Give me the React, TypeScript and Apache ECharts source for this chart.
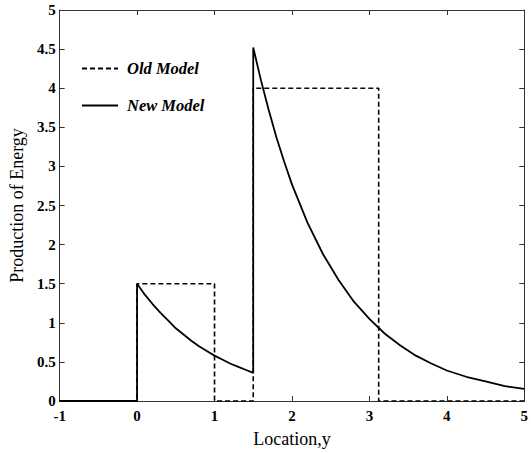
import React, { useEffect, useRef } from "react";
import * as echarts from "echarts";

const oldModelX = [-1, 0, 0, 1, 1, 1.5, 1.5, 3.12, 3.12, 5];
const oldModelY = [0, 0, 1.5, 1.5, 0, 0, 4, 4, 0, 0];

const newModelX = [
  -1, 0, 0, 0.1, 0.2, 0.3, 0.4, 0.5, 0.6, 0.7, 0.8, 0.9, 1.0, 1.1, 1.2, 1.3, 1.4, 1.5,
  1.5, 1.6, 1.7, 1.8, 1.9, 2.0, 2.2, 2.4, 2.6, 2.8, 3.0, 3.2, 3.4, 3.6, 3.8, 4.0, 4.25, 4.5, 4.75, 5.0,
];
const newModelY = [
  0, 0, 1.5, 1.36, 1.24, 1.13, 1.03, 0.93, 0.85, 0.77, 0.7, 0.64, 0.58, 0.53, 0.48, 0.44, 0.4, 0.36,
  4.52, 4.1, 3.72, 3.37, 3.06, 2.77, 2.28, 1.88, 1.55, 1.27, 1.05, 0.86, 0.71, 0.58, 0.48, 0.39, 0.31, 0.25, 0.19, 0.155,
];

const xTicks = [-1, 0, 1, 2, 3, 4, 5];
const yTicks = [0, 0.5, 1, 1.5, 2, 2.5, 3, 3.5, 4, 4.5, 5];

const FONT = "Liberation Serif";

export default function App() {
  const ref = useRef<HTMLDivElement>(null);
  useEffect(() => {
    const chart = echarts.init(ref.current!, undefined, { renderer: "svg" });
    const frameLine = { show: true, onZero: false, lineStyle: { color: "#333", width: 1 } };
    const tickIn = { show: true, inside: true, length: 5, lineStyle: { color: "#333" } };
    chart.setOption({
      animation: false,
      backgroundColor: "#fff",
      grid: { left: 58, right: 3, top: 10, bottom: 48, containLabel: false },
      legend: {
        left: 76,
        top: 55,
        orient: "vertical",
        itemGap: 20,
        itemWidth: 36,
        itemHeight: 12,
        itemStyle: { opacity: 0 },
        textStyle: { fontFamily: FONT, fontStyle: "italic", fontWeight: "bold", fontSize: 16.5, color: "#000", padding: [0, 0, 0, 4] },
        data: ["Old Model", "New Model"],
      },
      xAxis: [
        {
          type: "value",
          min: xTicks[0],
          max: xTicks[xTicks.length - 1],
          interval: 1,
          position: "bottom",
          name: "Location,y",
          nameLocation: "middle",
          nameGap: 29,
          nameTextStyle: { fontFamily: FONT, fontSize: 18, color: "#000" },
          axisLine: frameLine,
          axisTick: tickIn,
          splitLine: { show: false },
          axisLabel: { fontFamily: FONT, fontWeight: "bold", fontSize: 15, color: "#000", margin: 7 },
        },
        {
          type: "value",
          min: xTicks[0],
          max: xTicks[xTicks.length - 1],
          interval: 1,
          position: "top",
          axisLine: frameLine,
          axisTick: tickIn,
          splitLine: { show: false },
          axisLabel: { show: false },
        },
      ],
      yAxis: [
        {
          type: "value",
          min: yTicks[0],
          max: yTicks[yTicks.length - 1],
          interval: 0.5,
          position: "left",
          name: "Production of Energy",
          nameLocation: "middle",
          nameGap: 33,
          nameTextStyle: { fontFamily: FONT, fontSize: 18, color: "#000" },
          axisLine: frameLine,
          axisTick: tickIn,
          splitLine: { show: false },
          axisLabel: { fontFamily: FONT, fontWeight: "bold", fontSize: 15, color: "#000", margin: 4 },
        },
        {
          type: "value",
          min: yTicks[0],
          max: yTicks[yTicks.length - 1],
          interval: 0.5,
          position: "right",
          axisLine: frameLine,
          axisTick: tickIn,
          splitLine: { show: false },
          axisLabel: { show: false },
        },
      ],
      series: [
        {
          name: "Old Model",
          type: "line",
          symbol: "none",
          data: oldModelX.map((x, i) => [x, oldModelY[i]]),
          lineStyle: { color: "#000", width: 1.6, type: [5, 3] },
          itemStyle: { color: "#000" },
          z: 2,
        },
        {
          name: "New Model",
          type: "line",
          symbol: "none",
          data: newModelX.map((x, i) => [x, newModelY[i]]),
          lineStyle: { color: "#000", width: 1.8 },
          itemStyle: { color: "#000" },
          z: 3,
        },
      ],
    });
    return () => chart.dispose();
  }, []);
  return <div ref={ref} style={{ width: 531, height: 453, position: "absolute", left: 0, top: 0 }} />;
}
